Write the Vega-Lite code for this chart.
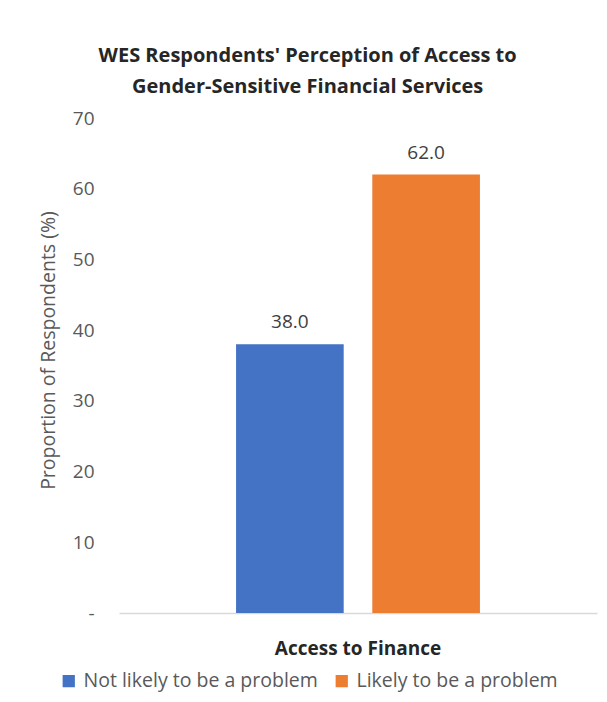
{
  "$schema": "https://vega.github.io/schema/vega-lite/v6.json",
  "width": 478,
  "height": 495,
  "padding": {"left": 38, "top": 46, "right": 10, "bottom": 10},
  "background": "white",
  "title": {
    "text": ["WES Respondents' Perception of Access to", "Gender-Sensitive Financial Services"],
    "fontSize": 20,
    "fontWeight": "bold",
    "font": "Open Sans",
    "color": "#262626",
    "anchor": "middle",
    "frame": "bounds",
    "lineHeight": 31,
    "offset": 12,
    "dx": -10
  },
  "data": {
    "values": [
      {"group": "Access to Finance", "series": "Not likely to be a problem", "value": 38.0},
      {"group": "Access to Finance", "series": "Likely to be a problem", "value": 62.0}
    ]
  },
  "encoding": {
    "x": {
      "field": "group",
      "type": "nominal",
      "scale": {"paddingInner": 0, "paddingOuter": 0.48},
      "axis": {
        "title": null,
        "labelAngle": 0,
        "labelFontWeight": "bold",
        "labelFontSize": 19,
        "labelFont": "Open Sans",
        "labelColor": "#262626",
        "labelPadding": 26,
        "ticks": false,
        "domainColor": "#D9D9D9",
        "domainWidth": 1.5
      }
    },
    "xOffset": {
      "field": "series",
      "type": "nominal",
      "sort": ["Not likely to be a problem", "Likely to be a problem"],
      "scale": {"paddingInner": 0.21, "paddingOuter": 0}
    },
    "y": {
      "field": "value",
      "type": "quantitative",
      "scale": {"domain": [0, 70]},
      "axis": {
        "values": [0, 10, 20, 30, 40, 50, 60, 70],
        "labelExpr": "datum.value === 0 ? '-' : datum.label",
        "grid": false,
        "domain": false,
        "ticks": false,
        "labelFontSize": 19,
        "labelFont": "Open Sans",
        "labelColor": "#595959",
        "labelPadding": 25,
        "title": "Proportion of Respondents (%)",
        "titleFontSize": 19.5,
        "titleFont": "Open Sans",
        "titleFontWeight": "normal",
        "titleColor": "#595959",
        "titlePadding": 14,
        "titleY": 232
      }
    },
    "color": {
      "field": "series",
      "type": "nominal",
      "sort": ["Not likely to be a problem", "Likely to be a problem"],
      "scale": {
        "domain": ["Not likely to be a problem", "Likely to be a problem"],
        "range": ["#4472C4", "#ED7D31"]
      },
      "legend": {
        "orient": "none",
        "legendX": -60,
        "legendY": 553,
        "direction": "horizontal",
        "title": null,
        "symbolType": "square",
        "symbolSize": 150,
        "symbolStrokeWidth": 0,
        "labelFontSize": 19.5,
        "labelFont": "Open Sans",
        "labelColor": "#595959",
        "labelLimit": 0,
        "labelOffset": 5,
        "columnPadding": 14
      }
    }
  },
  "layer": [
    {"mark": {"type": "bar"}},
    {
      "mark": {"type": "text", "dy": -12, "baseline": "bottom", "fontSize": 19, "font": "Open Sans"},
      "encoding": {
        "text": {"field": "value", "type": "quantitative", "format": ".1f"},
        "color": {"value": "#404040"}
      }
    }
  ],
  "config": {"view": {"stroke": null}}
}
